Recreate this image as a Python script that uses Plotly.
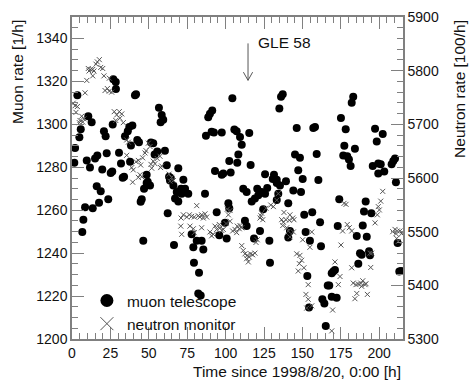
import plotly.graph_objects as go

# ---- data ----
muon_time = [3.5, 2.0, 1.5, 10.6, 12.8, 5.7, 4.8, 9.6, 11.7, 15.0, 16.5, 19.7, 22.6, 20.8, 21.9,
             25.2, 26.2, 26.9, 28.5, 28.6, 26.5, 30.6, 31.9, 33.0, 33.9, 34.5, 36.3, 37.3, 39.3,
             37.8, 38.4, 41.0, 41.7, 42.5, 43.6, 48.6, 49.3, 51.4, 52.9, 53.8, 55.5, 56.6, 58.4,
             57.7, 59.4, 60.5, 61.7, 63.2, 64.3, 63.8, 69.2, 16.1, 18.7, 8.5, 13.5, 17.6, 23.6,
             7.4, 6.7, 44.7, 45.4, 46.9, 48.6, 50.8, 46.4, 62.3, 66.4, 66.0, 68.2, 67.1, 69.2,
             71.0, 73.6, 75.7, 71.4, 86.6, 77.9, 79.0, 81.2, 84.4, 85.5, 79.4, 82.7, 82.2, 83.8,
             94.2, 95.9, 100.7, 101.8, 102.4, 99.6, 112.6, 113.7, 111.5, 113.7, 117.0, 119.1,
             121.3, 120.6, 123.5, 127.1, 125.7, 118.5, 122.4, 128.5, 124.5, 128.9, 130.7, 133.3,
             135.4, 134.3, 133.3, 140.8, 141.9, 140.8, 150.2, 160.4, 144.1, 149.1, 151.2, 156.4,
             161.5, 152.1, 154.9, 162.1, 153.2, 154.3, 163.0, 164.3, 165.2, 166.5, 167.5, 169.1,
             170.1, 171.2, 169.1, 172.3, 174.0, 173.0, 185.4, 191.9, 186.4, 187.5, 188.6, 193.4,
             194.0, 189.3, 190.1, 194.9, 191.2, 210.9, 212.0, 213.1, 214.2, 72.5, 104.4, 88.7,
             89.8, 91.3, 87.2, 90.9, 92.4, 97.5, 105.7, 107.2, 109.4, 110.5, 115.4, 108.3, 102.4,
             107.6, 93.1, 97.5, 98.5, 103.3, 116.3, 125.7, 131.5, 133.3, 136.1, 137.2, 135.0,
             139.3, 146.3, 157.1, 158.2, 145.2, 148.4, 159.3, 147.3, 175.1, 182.1, 183.1, 178.2,
             177.3, 176.6, 179.2, 180.3, 181.4, 184.2, 197.3, 202.3, 198.4, 195.8, 199.4, 201.0,
             199.4, 203.3, 208.1, 209.2, 210.3]
muon_rate = [1313.6, 1289.0, 1282.1, 1303.8, 1301.0, 1297.7, 1294.0, 1283.2, 1279.9, 1284.1, 1285.5,
             1279.0, 1286.5, 1296.8, 1294.5, 1277.3, 1278.0, 1321.0, 1319.7, 1316.5, 1299.9, 1286.8,
             1281.7, 1275.1, 1275.6, 1294.5, 1296.8, 1298.8, 1299.5, 1282.6, 1290.1, 1313.5, 1314.0,
             1292.7, 1291.7, 1276.5, 1273.2, 1291.5, 1291.2, 1285.9, 1287.4, 1307.7, 1304.4, 1301.0,
             1302.1, 1287.7, 1280.9, 1275.6, 1275.0, 1273.8, 1279.5, 1271.2, 1268.8, 1261.4, 1260.9,
             1263.5, 1265.1, 1255.6, 1249.9, 1263.9, 1265.1, 1270.0, 1272.7, 1271.5, 1245.8, 1258.6,
             1243.8, 1271.5, 1268.5, 1265.5, 1264.0, 1270.0, 1270.0, 1267.7, 1267.7, 1267.7, 1248.8,
             1242.7, 1245.8, 1245.8, 1241.7, 1235.5, 1230.9, 1221.2, 1220.3, 1259.0, 1248.3, 1246.8,
             1263.2, 1260.9, 1254.1, 1255.1, 1252.6, 1270.0, 1268.5, 1264.0, 1265.5, 1267.0, 1270.0,
             1268.5, 1270.3, 1267.7, 1246.8, 1250.3, 1245.8, 1260.5, 1235.5, 1274.5, 1272.7, 1271.5,
             1267.7, 1264.7, 1263.2, 1250.3, 1247.3, 1274.5, 1274.1, 1269.2, 1268.5, 1257.9, 1259.0,
             1254.4, 1249.9, 1245.8, 1243.2, 1229.4, 1214.7, 1218.5, 1216.5, 1206.0, 1224.9, 1224.9,
             1230.6, 1231.4, 1232.1, 1219.7, 1219.2, 1265.1, 1252.6, 1248.0, 1247.6, 1235.1, 1240.0,
             1239.2, 1240.9, 1239.0, 1252.9, 1259.4, 1258.6, 1264.0, 1273.0, 1244.7, 1231.4, 1231.7,
             1274.2, 1312.1, 1303.3, 1304.9, 1306.4, 1294.7, 1296.5, 1296.2, 1296.2, 1297.6, 1296.8,
             1294.1, 1290.5, 1296.0, 1285.9, 1282.9, 1282.1, 1278.3, 1276.5, 1277.1, 1277.6, 1281.0,
             1276.8, 1276.5, 1274.2, 1312.9, 1314.0, 1307.4, 1273.5, 1298.3, 1298.3, 1298.8, 1285.9,
             1284.4, 1286.2, 1278.6, 1303.0, 1310.1, 1312.9, 1297.7, 1290.0, 1285.5, 1285.1, 1283.6,
             1280.6, 1288.6, 1298.0, 1295.5, 1292.0, 1280.6, 1281.7, 1281.4, 1277.1, 1278.0, 1281.4,
             1282.9, 1284.1]

neutron_time = [17.8, 16.5, 15.6, 18.7, 20.0, 10.6, 12.2, 11.1, 13.5, 14.3, 13.5, 9.6, 20.8, 24.3,
                21.5, 23.0, 24.3, 25.8, 8.5, 0.8, 2.0, 3.5, 2.6, 6.3, 5.2, 4.8, 7.0, 7.8, 27.5, 30.8,
                32.4, 29.1, 31.2, 28.5, 33.4, 35.6, 36.7, 35.6, 38.9, 39.9, 41.7, 43.2, 44.7, 46.0,
                47.5, 48.2, 49.7, 50.8, 44.3, 43.2, 45.4, 51.4, 52.9, 51.9, 54.0, 55.5, 57.3, 58.4,
                57.7, 39.5, 63.2, 64.9, 66.0, 63.8, 70.8, 71.4, 71.0, 81.2, 72.5, 74.7, 76.4, 77.9,
                79.6, 82.2, 83.3, 84.4, 85.5, 86.6, 87.7, 76.8, 79.0, 79.6, 84.4, 89.8, 92.0, 90.9,
                94.2, 93.1, 96.4, 95.9, 97.5, 98.5, 100.3, 101.8, 101.1, 102.9, 102.9, 104.6, 106.1,
                107.6, 109.4, 108.9, 110.5, 107.2, 110.5, 111.5, 112.6, 114.1, 113.7, 115.4, 116.3,
                117.6, 119.1, 114.8, 119.8, 120.6, 122.4, 123.0, 124.2, 123.5, 126.3, 129.4, 131.1,
                133.3, 134.3, 136.5, 137.6, 139.3, 141.5, 143.7, 137.2, 139.8, 140.8, 144.1, 138.0,
                146.3, 148.4, 149.5, 148.0, 147.3, 151.0, 150.2, 156.1, 154.9, 153.8, 152.8, 144.5,
                141.9, 141.9, 153.8, 152.3, 156.1, 169.7, 169.1, 171.2, 174.5, 173.4, 175.1, 182.1,
                183.1, 184.9, 186.4, 188.0, 189.3, 190.8, 188.6, 191.4, 185.4, 184.2, 192.3, 177.1,
                178.4, 179.2, 180.5, 176.2, 182.1, 194.0, 195.1, 194.5, 197.3, 198.8, 200.1, 199.4,
                201.0, 202.3, 208.8, 210.3, 211.8, 213.5, 210.9, 214.6, 211.4, 212.4]
neutron_rate = [5820.5, 5816.3, 5812.1, 5806.0, 5804.1, 5804.1, 5802.3, 5799.4, 5802.3, 5799.4,
                5790.3, 5781.8, 5790.3, 5786.0, 5763.0, 5766.7, 5761.8, 5760.0, 5758.7, 5739.4,
                5734.6, 5733.2, 5722.3, 5715.1, 5707.2, 5703.1, 5704.2, 5710.3, 5723.6, 5723.6,
                5719.4, 5717.6, 5711.4, 5707.2, 5703.1, 5670.9, 5666.7, 5642.3, 5619.4, 5615.1,
                5630.3, 5632.7, 5624.2, 5637.6, 5646.7, 5650.9, 5664.9, 5658.7, 5606.0, 5601.2,
                5602.3, 5625.4, 5631.4, 5618.2, 5626.7, 5636.3, 5640.5, 5622.3, 5619.4, 5592.2,
                5607.2, 5601.2, 5595.1, 5594.0, 5510.3, 5495.1, 5525.4, 5548.5, 5531.4, 5527.3,
                5531.4, 5528.5, 5527.3, 5529.6, 5527.3, 5531.4, 5525.4, 5533.2, 5527.3, 5510.3,
                5505.4, 5498.2, 5507.3, 5499.4, 5495.1, 5492.2, 5504.2, 5510.3, 5507.3, 5513.3,
                5502.3, 5504.2, 5515.1, 5531.4, 5541.8, 5539.4, 5519.4, 5501.3, 5504.2, 5510.3,
                5511.4, 5505.4, 5507.3, 5498.2, 5474.0, 5464.9, 5458.7, 5455.8, 5449.6, 5452.7,
                5458.7, 5456.9, 5460.0, 5443.6, 5480.0, 5484.9, 5525.4, 5529.6, 5522.3, 5534.4,
                5543.6, 5549.6, 5546.7, 5558.7, 5570.9, 5522.3, 5517.6, 5522.3, 5521.3, 5525.4,
                5511.4, 5507.3, 5501.3, 5499.4, 5535.8, 5458.7, 5455.8, 5446.7, 5440.5, 5426.7,
                5432.7, 5484.9, 5499.4, 5470.9, 5374.0, 5357.6, 5522.3, 5531.4, 5490.3, 5401.3,
                5383.1, 5361.8, 5354.0, 5315.1, 5443.6, 5416.4, 5401.3, 5475.1, 5432.7, 5404.2,
                5401.3, 5402.4, 5404.2, 5408.5, 5401.3, 5398.2, 5403.1, 5384.9, 5375.1, 5383.1,
                5552.7, 5550.9, 5513.3, 5507.3, 5501.3, 5501.3, 5460.0, 5460.0, 5433.3, 5516.4,
                5531.4, 5540.5, 5546.7, 5556.9, 5575.1, 5500.0, 5504.2, 5501.3, 5501.3, 5496.3,
                5496.3, 5487.3, 5481.8]

x_tick_vals = [0, 25, 50, 75, 100, 125, 150, 175, 200]
muon_tick_vals = [1200, 1220, 1240, 1260, 1280, 1300, 1320, 1340]
neutron_tick_vals = [5300, 5400, 5500, 5600, 5700, 5800, 5900]

series_names = ["muon telescope", "neutron monitor"]
gle_label = "GLE 58"
gle_time = 114.6          # hours
gle_arrow_top = 1337.7    # muon-axis units
gle_arrow_tip = 1320.5

FONT = "Liberation Sans, Arial, sans-serif"
AX = "#808080"
TXT = "#111111"
TITLE_SIZE = 15.5

fig = go.Figure()

fig.add_trace(go.Scatter(
    x=neutron_time, y=neutron_rate, yaxis="y2", mode="markers", showlegend=False,
    marker=dict(symbol="x-thin", size=5, line=dict(width=1, color="#555555"), color="#555555"),
))
fig.add_trace(go.Scatter(
    x=muon_time, y=muon_rate, mode="markers", showlegend=False,
    marker=dict(symbol="circle", size=8, color="black"),
))
# legend entries
fig.add_trace(go.Scatter(
    x=[None], y=[None], mode="markers", name=series_names[0],
    marker=dict(symbol="circle", size=13, color="black"),
))
fig.add_trace(go.Scatter(
    x=[None], y=[None], mode="markers", name=series_names[1],
    marker=dict(symbol="x-thin", size=13, line=dict(width=1, color="#555555"), color="#555555"),
))

axis_common = dict(
    showgrid=False, zeroline=False, showline=True, linecolor=AX, linewidth=1.5,
    ticks="inside", ticklen=12, tickcolor=AX, tickwidth=1,
    tickfont=dict(family=FONT, size=14, color=TXT),
)

fig.update_layout(
    width=469, height=384,
    margin=dict(l=72, r=66, t=9, b=45),
    paper_bgcolor="white", plot_bgcolor="white",
    font=dict(family=FONT, size=14, color=TXT),
    xaxis=dict(range=[0, 215.5], tickvals=x_tick_vals, mirror="ticks",
               minor=dict(dtick=5, ticklen=6, tickcolor=AX, ticks="inside", tick0=0),
               **axis_common),
    yaxis=dict(range=[1200, 1350], tickvals=muon_tick_vals,
               minor=dict(dtick=5, ticklen=6, tickcolor=AX, ticks="inside", tick0=1200),
               **axis_common),
    yaxis2=dict(range=[5300, 5900], tickvals=neutron_tick_vals, overlaying="y", side="right",
                minor=dict(dtick=20, ticklen=6, tickcolor=AX, ticks="inside", tick0=5300),
                **axis_common),
    showlegend=True,
    legend=dict(x=0.045, y=-0.006, xanchor="left", yanchor="bottom",
                bgcolor="rgba(0,0,0,0)", font=dict(family=FONT, size=TITLE_SIZE, color=TXT),
                tracegroupgap=0, itemsizing="trace"),
)

# axis titles (ROOT-style: aligned to top / right end)
fig.add_annotation(text="Muon rate [1/h]", xref="paper", yref="paper", x=-0.163, y=0.997,
                   xanchor="center", yanchor="top", textangle=-90, showarrow=False,
                   font=dict(family=FONT, size=TITLE_SIZE, color=TXT))
fig.add_annotation(text="Neutron rate [100/h]", xref="paper", yref="paper", x=1.172, y=0.997,
                   xanchor="center", yanchor="top", textangle=-90, showarrow=False,
                   font=dict(family=FONT, size=TITLE_SIZE, color=TXT))
fig.add_annotation(text="Time since 1998/8/20, 0:00 [h]", xref="paper", yref="paper", x=1.0,
                   y=-0.1, xanchor="right", yanchor="middle", showarrow=False,
                   font=dict(family=FONT, size=TITLE_SIZE, color=TXT))

# GLE arrow
fig.add_annotation(text=gle_label, x=gle_time + 5.5, y=gle_arrow_top + 0.2, xref="x", yref="y",
                   xanchor="left", yanchor="middle", showarrow=False,
                   font=dict(family=FONT, size=TITLE_SIZE, color=TXT))
fig.add_shape(type="line", xref="x", yref="y", x0=gle_time, x1=gle_time,
              y0=gle_arrow_top, y1=gle_arrow_tip, line=dict(color="#555555", width=1))
fig.add_shape(type="path", xref="x", yref="y",
              path=f"M {gle_time-3.0},{gle_arrow_tip+3.8} L {gle_time},{gle_arrow_tip} L {gle_time+3.0},{gle_arrow_tip+3.8}",
              line=dict(color="#555555", width=1))

fig.write_html("out.html", config={"displayModeBar": False},
               post_script="document.body.style.margin='0px';")
